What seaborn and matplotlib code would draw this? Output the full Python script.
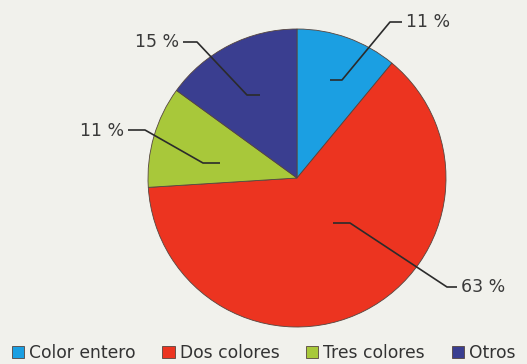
import matplotlib
matplotlib.use("Agg")
import matplotlib.pyplot as plt
import seaborn as sns

# ---- data ----
categories = ["Color entero", "Dos colores", "Tres colores", "Otros"]
values = [11, 63, 11, 15]
value_labels = ["11 %", "63 %", "11 %", "15 %"]
hex_colors = ["#1b9fe2", "#ec3420", "#a8c83a", "#3a3e90"]

sns.set_theme(style="white")
plt.rcParams["font.family"] = ["DejaVu Sans"]
palette = sns.color_palette(hex_colors)

W, H = 527, 364
bg = "#f1f1ec"
fig = plt.figure(figsize=(W / 100, H / 100), dpi=100, facecolor=bg)

cx, cy, r = 297, 178, 149
ax = fig.add_axes([(cx - r) / W, (H - cy - r) / H, 2 * r / W, 2 * r / H])
ax.set_facecolor(bg)
wedges, _ = ax.pie(values, colors=palette, startangle=90, counterclock=False,
                   radius=1,
                   wedgeprops=dict(linewidth=0.6, edgecolor="#55453f"))
ax.set_xlim(-1, 1)
ax.set_ylim(-1, 1)
ax.set_aspect("equal")
ax.axis("off")


def to_data(p):
    return ((p[0] - cx) / r, (cy - p[1]) / r)


# leader lines (layout, in pixel coordinates of the figure)
leaders = [
    ([(330, 80), (342, 80), (390, 22), (402, 22)], (406, 22), "left"),
    ([(333, 223), (350, 223), (447, 287), (457, 287)], (461, 287), "left"),
    ([(220, 163), (203, 163), (145, 130), (128, 130)], (124, 131), "right"),
    ([(260, 95), (247, 95), (197, 42), (183, 42)], (179, 42), "right"),
]
for (pts, tpos, ha), lab in zip(leaders, value_labels):
    dpts = [to_data(p) for p in pts]
    ax.plot([p[0] for p in dpts], [p[1] for p in dpts], color="#2b2b2b",
            lw=1.2, clip_on=False, solid_capstyle="butt")
    tx, ty = to_data(tpos)
    ax.text(tx, ty, lab, ha=ha, va="center", fontsize=12.5, color="#3a3a3a",
            clip_on=False)

leg = fig.legend(wedges, categories, loc="center left",
                 bbox_to_anchor=(12 / W, 1 - 353 / H), ncol=4, frameon=False,
                 fontsize=12.3, handlelength=0.72, handleheight=0.72,
                 handletextpad=0.3, columnspacing=1.55, borderpad=0,
                 borderaxespad=0)
for t in leg.get_texts():
    t.set_color("#333333")

fig.savefig("out.png", dpi=100, facecolor=bg)
